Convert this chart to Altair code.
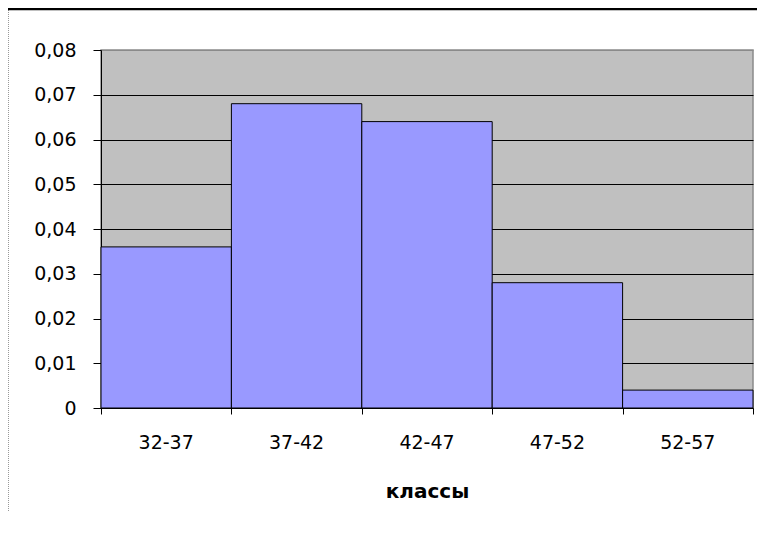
import altair as alt
import pandas as pd

classes = ["32-37", "37-42", "42-47", "47-52", "52-57"]
lower = [32, 37, 42, 47, 52]
upper = [37, 42, 47, 52, 57]
density = [0.036, 0.068, 0.064, 0.028, 0.004]
y_ticks = [0, 0.01, 0.02, 0.03, 0.04, 0.05, 0.06, 0.07, 0.08]
x_ticks = [32, 37, 42, 47, 52, 57]

df = pd.DataFrame({"class": classes, "lo": lower, "hi": upper, "d": density})

W, H = 652, 358

xscale = alt.Scale(domain=[32, 57], nice=False, zero=False)
yscale = alt.Scale(domain=[0, 0.08], nice=False)

bars = alt.Chart(df).mark_rect(
    fill="#9999FF", stroke="black", strokeWidth=1
).encode(
    x=alt.X("lo:Q", scale=xscale,
            axis=alt.Axis(values=x_ticks, labels=False, ticks=True, tickSize=6,
                          tickColor="black", domainColor="black", grid=False,
                          title="классы", titleFont="DejaVu Sans", titleFontSize=20,
                          titleFontWeight="bold", titleColor="black",
                          titleBaseline="alphabetic", titleX=W / 2, titleY=89)),
    x2="hi:Q",
    y=alt.Y("d:Q", scale=yscale,
            axis=alt.Axis(values=y_ticks, title=None, grid=True,
                          gridColor={"condition": {"test": "datum.value >= 0.08", "value": "#8a8a8a"},
                                     "value": "black"},
                          gridWidth=1, tickColor="black", tickSize=8,
                          domainColor="black", labelFont="DejaVu Sans",
                          labelFontSize=19, labelColor="black", labelPadding=17,
                          labelExpr="datum.value == 0 ? '0' : replace(format(datum.value, '.2f'), '.', ',')")),
    y2=alt.datum(0),
)

labels = alt.Chart(df).transform_calculate(
    mid="(datum.lo + datum.hi) / 2"
).mark_text(
    font="DejaVu Sans", fontSize=19, color="black", baseline="alphabetic", align="center"
).encode(
    x=alt.X("mid:Q", scale=xscale),
    y=alt.value(H + 41),
    text="class:N",
)

left_line = alt.Chart(df.head(1)).mark_rule(
    color="#999999", strokeDash=[1, 1], strokeWidth=1
).encode(x=alt.value(-92.5), y=alt.value(-40), y2=alt.value(462))

top_line = alt.Chart(df.head(1)).mark_rule(
    color="black", strokeWidth=2.5
).encode(x=alt.value(-93), x2=alt.value(W + 12), y=alt.value(-41))

chart = alt.layer(bars, labels, left_line, top_line).properties(
    width=W, height=H,
    autosize=alt.AutoSizeParams(type="none"),
    padding={"left": 93, "top": 42, "right": 4, "bottom": 104},
    background="white",
).configure_view(
    fill="#C0C0C0", stroke="#8a8a8a", strokeWidth=1.5
)

chart.save("out.html", embed_options={"renderer": "svg", "actions": False})
